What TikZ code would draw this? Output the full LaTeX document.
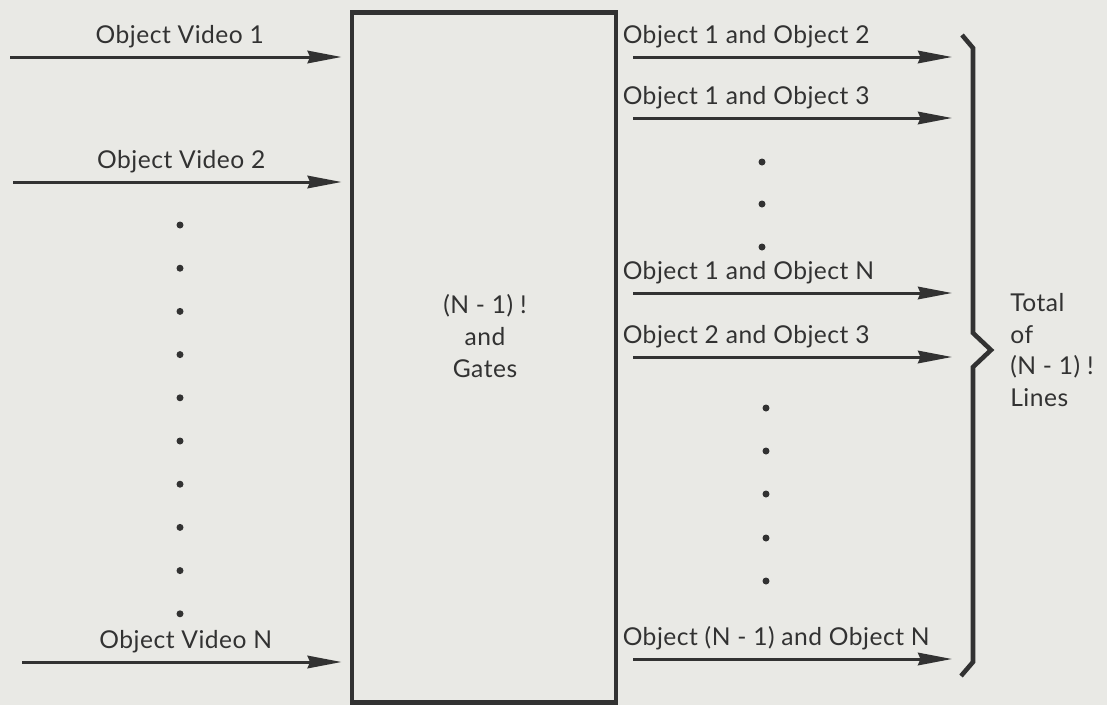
\documentclass[tikz,border=0pt]{standalone}
\usepackage{fontspec}
\setmainfont{Lato}[LetterSpace=2]
\usetikzlibrary{arrows.meta}

\definecolor{ink}{RGB}{50,50,50}
\definecolor{paper}{RGB}{233,233,229}

\begin{document}
\begin{tikzpicture}[
     x=0.02cm, y=-0.02cm,
     every node/.style={text=ink,font=\fontsize{14}{18.1}\selectfont},
     sig/.style={draw=ink,line width=1.7pt,
       -{Stealth[length=0.68cm,width=0.25cm,inset=0.05cm]}},
     dot/.style={circle,fill=ink,inner sep=0pt,minimum size=0.14cm}
   ]
   \fill[paper] (0,0) rectangle (1107,705);
   % Gate block.
   \node[draw=ink,line width=2.8pt,inner sep=0pt,
     minimum width=5.28cm,minimum height=13.82cm] (gates) at (484,357.5) {};
   \node[align=center] (gatestext) at (485,336) {(N - 1) !\\and\\Gates};
   % Video inputs.
   \foreach \x/\y/\n in {10/57/1,13/182/2,22/662/N} {
     \coordinate (in\n) at (\x,\y);
     \draw[sig,shorten >=0.16cm] (in\n) --
       node[above=1pt] (invideo\n) {Object Video \n} (in\n -| gates.west);
   }
   \foreach \k in {0,...,9}
     \node[dot] (indot\k) at (180,225+43.2*\k) {};
   % Pair outputs.
   \foreach \y/\t [count=\i] in {57/Object 1 and Object 2,118/Object 1 and Object 3,
       293/Object 1 and Object N,357/Object 2 and Object 3,659/Object (N - 1) and Object N} {
     \coordinate (out\i) at (952,\y);
     \draw[sig,shorten <=0.3cm] (out\i -| gates.east) coordinate (src\i) -- (out\i);
     \node[anchor=south west,inner sep=0pt] (pair\i) at ([xshift=0.08cm,yshift=0.17cm]src\i |- out\i) {\t};
   }
   \foreach \y [count=\k] in {162,204,247}
     \node[dot] (updot\k) at (762,\y) {};
   \foreach \y [count=\k] in {408,451,494,538,581}
     \node[dot] (lowdot\k) at (766,\y) {};
   % Brace and total.
   \draw[ink,line width=2.6pt,line join=miter]
     (962,35) -- (973,48) -- (973,333) -- (991,350) -- (973,367)
     -- (973,662) -- (961,676);
   \node[anchor=west,align=left,inner sep=0pt] (total) at (1010,350)
     {Total\\of\\(N - 1) !\\Lines};
\end{tikzpicture}
\end{document}
